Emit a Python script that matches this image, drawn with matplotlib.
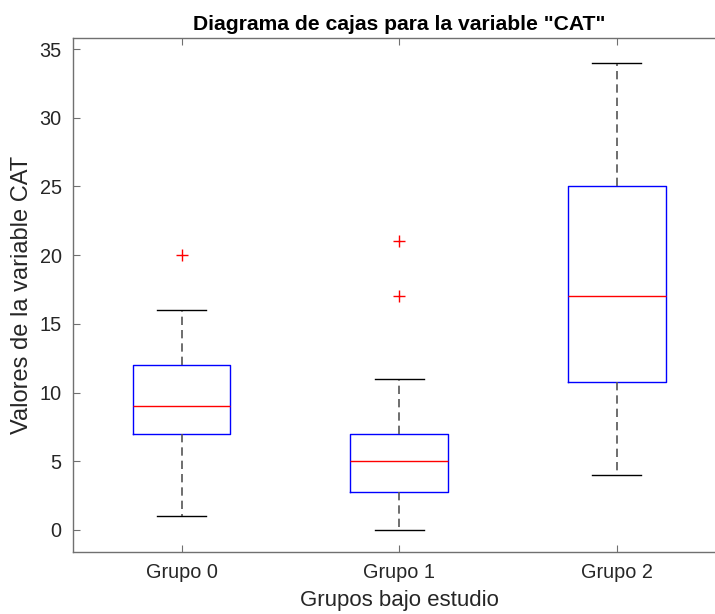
import numpy as np
import matplotlib.pyplot as plt

plt.rcParams['font.family'] = ['Liberation Sans', 'DejaVu Sans']

# resumen de cada grupo (variable CAT)
grupos = ['Grupo 0', 'Grupo 1', 'Grupo 2']
bigotes_inf = [1, 0, 4]
q1 = [7, 2.75, 10.75]
medianas = [9, 5, 17]
q3 = [12, 7, 25]
bigotes_sup = [16, 11, 34]
atipicos = [[20], [17, 21], []]

stats = []
for i in range(len(grupos)):
    stats.append({
        'label': grupos[i],
        'whislo': bigotes_inf[i],
        'q1': q1[i],
        'med': medianas[i],
        'q3': q3[i],
        'whishi': bigotes_sup[i],
        'fliers': np.array(atipicos[i]),
    })

fig = plt.figure(figsize=(7.15, 6.14), dpi=100)
ax = fig.add_axes([0.1017, 0.1015, 0.9129, 0.8366])

ax.bxp(stats, positions=[1, 2, 3], widths=0.45, showfliers=True,
       boxprops=dict(color='blue', linewidth=1.0),
       medianprops=dict(color='red', linewidth=1.0),
       whiskerprops=dict(color='#555555', linewidth=1.2, linestyle=(0, (5, 3))),
       capprops=dict(color='black', linewidth=1.0),
       capwidths=0.225,
       flierprops=dict(marker='+', markeredgecolor='red', markersize=8.5,
                       markeredgewidth=1.0, linestyle='none'))

ax.set_xlim(0.5, 3.5)
ax.set_ylim(-1.58, 35.8)
ax.set_yticks(np.arange(0, 36, 5))
ax.set_xticks([1, 2, 3])
ax.set_xticklabels(grupos)

ax.tick_params(direction='in', length=5, width=0.8, color='#707070',
               labelsize=14.3, labelcolor='#262626', top=True, right=True, pad=8)
for s in ax.spines.values():
    s.set_color('#707070')
    s.set_linewidth(1.0)

ax.set_title('Diagrama de cajas para la variable "CAT"', fontsize=15.2,
             fontweight='bold', pad=6)
ax.set_xlabel('Grupos bajo estudio', fontsize=16, color='#262626', labelpad=6)
ax.set_ylabel('Valores de la variable CAT', fontsize=17, color='#262626', labelpad=5)

fig.savefig('out.png', dpi=100)
